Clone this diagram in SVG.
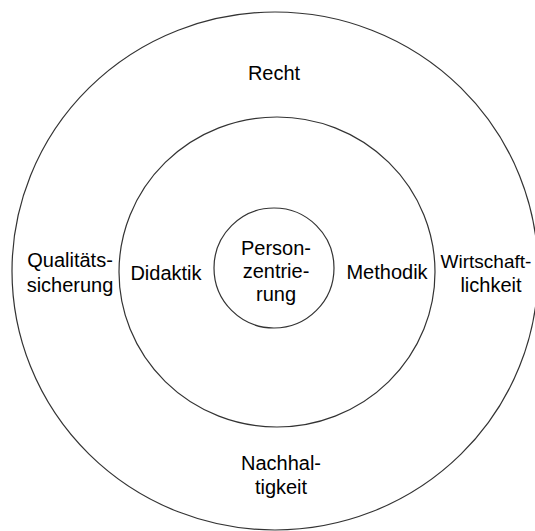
<svg xmlns="http://www.w3.org/2000/svg" width="535" height="531" viewBox="0 0 535 531">
<style>
.ring{fill:none;stroke:#333;stroke-width:1.2}
text{font-family:"Liberation Sans",Arial,sans-serif;font-size:20px;fill:#000;text-anchor:middle}
</style>
<rect width="535" height="531" fill="#fff"/>
<g id="outer"><ellipse class="ring" cx="275" cy="271" rx="263" ry="259"/>
<text x="274" y="80">Recht</text>
<text x="70" y="267">Qualitäts-</text><text x="70" y="292">sicherung</text>
<text x="486" y="268" style="font-size:19px">Wirtschaft-</text><text x="491" y="292">lichkeit</text>
<text x="281" y="470">Nachhal-</text><text x="281" y="494">tigkeit</text>
</g>
<g id="middle"><ellipse class="ring" cx="277" cy="272" rx="158" ry="155"/>
<text x="166" y="280">Didaktik</text>
<text x="387" y="279">Methodik</text>
</g>
<g id="inner"><circle class="ring" cx="274" cy="268" r="60"/>
<text x="276" y="255">Person-</text><text x="276" y="278">zentrie-</text><text x="276" y="301">rung</text>
</g>
</svg>
